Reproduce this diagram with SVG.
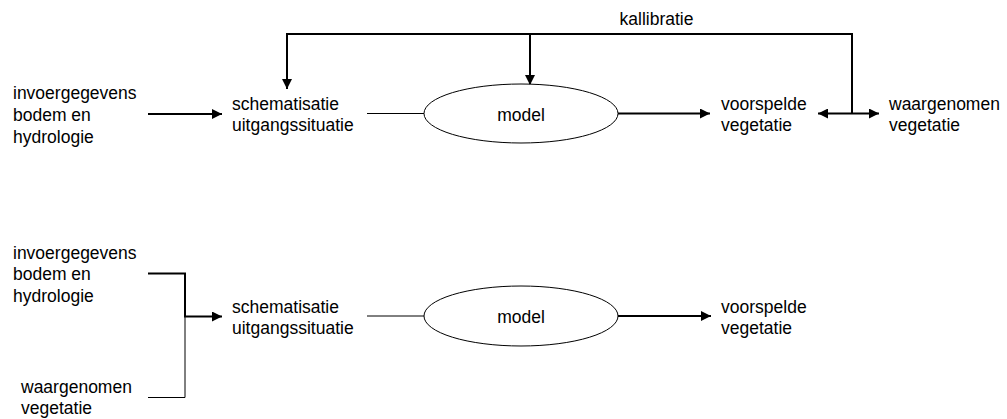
<svg xmlns="http://www.w3.org/2000/svg" width="1007" height="419" viewBox="0 0 1007 419">
  <style>
    text { font-family: "Liberation Sans", Arial, sans-serif; font-size: 17.5px; fill: #000; }
    .thick { stroke: #000; stroke-width: 2; fill: none; }
    .thin { stroke: #000; stroke-width: 1; fill: none; }
    .node-shape { stroke: #000; stroke-width: 1; fill: #fff; }
  </style>
  <defs>
    <marker id="arrow" viewBox="0 0 10 10" refX="10" refY="5" markerWidth="11" markerHeight="10" markerUnits="userSpaceOnUse" orient="auto-start-reverse">
      <path d="M0,0 L10,5 L0,10 Z" fill="#000"/>
    </marker>
  </defs>

  <rect width="1007" height="419" fill="#fff"/>

  <!-- connectors -->
  <g id="connectors">
    <!-- upper chain -->
    <line class="thick" x1="148" y1="114" x2="222" y2="114" marker-end="url(#arrow)"/>
    <line class="thin" x1="367" y1="113.5" x2="424" y2="113.5"/>
    <line class="thick" x1="618" y1="113.5" x2="710" y2="113.5" marker-end="url(#arrow)"/>
    <line class="thick" x1="818" y1="113.5" x2="879" y2="113.5" marker-start="url(#arrow)" marker-end="url(#arrow)"/>
    <!-- calibration loop -->
    <polyline class="thick" points="852,113.5 852,34 287,34 287,89" marker-end="url(#arrow)"/>
    <line class="thick" x1="530" y1="34" x2="530" y2="85" marker-end="url(#arrow)"/>

    <!-- lower chain -->
    <polyline class="thick" points="148,273.5 185,273.5 185,316.5 222,316.5" marker-end="url(#arrow)"/>
    <polyline class="thin" points="185,316.5 185,397.5 148,397.5"/>
    <line class="thin" x1="367" y1="316" x2="424" y2="316"/>
    <line class="thick" x1="618" y1="316" x2="711" y2="316" marker-end="url(#arrow)"/>
  </g>

  <!-- upper row nodes -->
  <g id="input-top">
    <text x="13" y="99">invoergegevens</text>
    <text x="13" y="121">bodem en</text>
    <text x="13" y="143">hydrologie</text>
  </g>
  <g id="schematisation-top">
    <text x="232" y="109.5">schematisatie</text>
    <text x="232" y="131">uitgangssituatie</text>
  </g>
  <g id="model-top">
    <ellipse class="node-shape" cx="521" cy="113.5" rx="97" ry="29.5"/>
    <text x="521" y="120.5" text-anchor="middle">model</text>
  </g>
  <g id="predicted-top">
    <text x="721" y="109.5">voorspelde</text>
    <text x="721" y="131">vegetatie</text>
  </g>
  <g id="observed-top">
    <text x="889" y="109.5">waargenomen</text>
    <text x="889" y="131">vegetatie</text>
  </g>
  <g id="calibration-label">
    <text x="656.5" y="25" text-anchor="middle">kallibratie</text>
  </g>

  <!-- lower row nodes -->
  <g id="input-bottom">
    <text x="13" y="258.5">invoergegevens</text>
    <text x="13" y="280">bodem en</text>
    <text x="13" y="301.5">hydrologie</text>
  </g>
  <g id="observed-bottom">
    <text x="21" y="393">waargenomen</text>
    <text x="21" y="414">vegetatie</text>
  </g>
  <g id="schematisation-bottom">
    <text x="232" y="312.5">schematisatie</text>
    <text x="232" y="334">uitgangssituatie</text>
  </g>
  <g id="model-bottom">
    <ellipse class="node-shape" cx="521" cy="316" rx="97" ry="30"/>
    <text x="521" y="323" text-anchor="middle">model</text>
  </g>
  <g id="predicted-bottom">
    <text x="721" y="312.5">voorspelde</text>
    <text x="721" y="334">vegetatie</text>
  </g>
</svg>
